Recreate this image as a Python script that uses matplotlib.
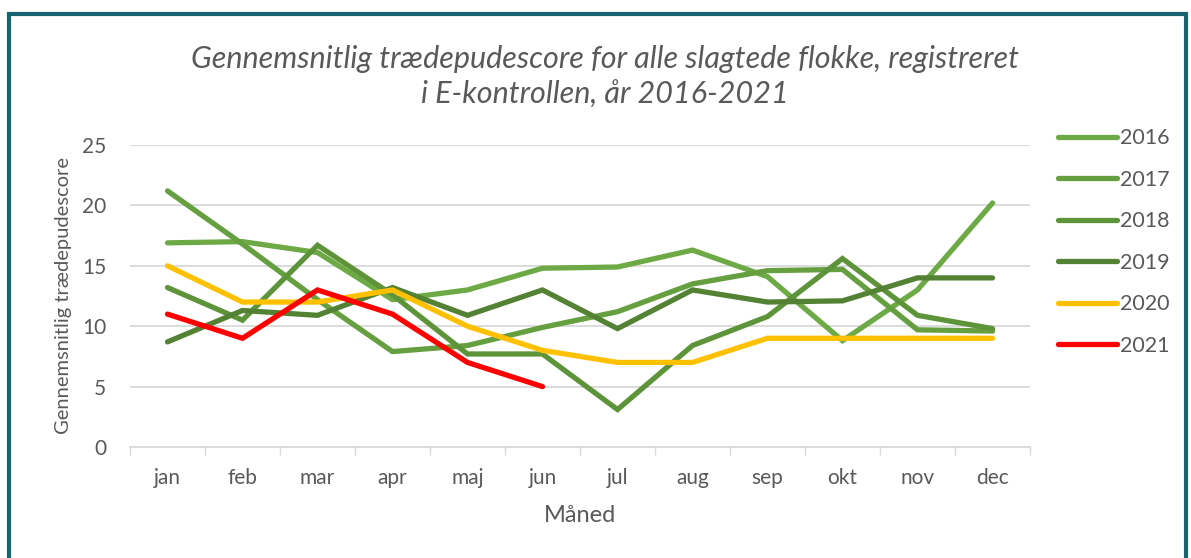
import matplotlib.pyplot as plt
import numpy as np
from matplotlib.patches import Rectangle

months = ['jan', 'feb', 'mar', 'apr', 'maj', 'jun', 'jul', 'aug', 'sep', 'okt', 'nov', 'dec']
years = ['2016', '2017', '2018', '2019', '2020', '2021']

y2016 = [16.9, 17.0, 16.1, 12.2, 13.0, 14.8, 14.9, 16.3, 14.1, 8.8, 13.0, 20.2]
y2017 = [21.2, 16.8, 12.2, 7.9, 8.4, 9.9, 11.2, 13.5, 14.6, 14.7, 9.7, 9.6]
y2018 = [13.2, 10.5, 16.7, 12.6, 7.7, 7.7, 3.1, 8.4, 10.8, 15.6, 10.9, 9.8]
y2019 = [8.7, 11.3, 10.9, 13.2, 10.9, 13.0, 9.8, 13.0, 12.0, 12.1, 14.0, 14.0]
y2020 = [15, 12, 12, 13, 10, 8, 7, 7, 9, 9, 9, 9]
y2021 = [11, 9, 13, 11, 7, 5]

series = [y2016, y2017, y2018, y2019, y2020, y2021]
colors = ['#6DAA45', '#659F3F', '#5E9439', '#548235', '#FFC000', '#FF0000']

plt.rcParams['font.family'] = ['Lato', 'DejaVu Sans']
grey = '#595959'

fig = plt.figure(figsize=(11.91, 5.58), dpi=100)
ax = fig.add_axes([130 / 1191, 1 - 447 / 558, 900 / 1191, 302 / 558])

x = np.arange(len(months))
for yr, vals, c in zip(years, series, colors):
    ax.plot(x[:len(vals)], vals, color=c, lw=3.8, label=yr,
            solid_capstyle='round', solid_joinstyle='miter')

ax.set_xlim(-0.5, 11.5)
ax.set_ylim(0, 25)
ax.set_yticks([0, 5, 10, 15, 20, 25])
ax.set_xticks(x)
ax.set_xticklabels(months)
ax.set_xticks(np.arange(-0.5, 12, 1), minor=True)
ax.tick_params(axis='x', which='major', length=0, pad=15, labelsize=15, labelcolor=grey)
ax.tick_params(axis='x', which='minor', length=6, color='#D9D9D9', width=1)
ax.tick_params(axis='y', length=0, pad=17, labelsize=15, labelcolor=grey)
ax.grid(axis='y', color='#D9D9D9', lw=1.3)
ax.set_axisbelow(True)
for s in ['top', 'right', 'left']:
    ax.spines[s].set_visible(False)
ax.spines['bottom'].set_color('#D9D9D9')
ax.spines['bottom'].set_linewidth(1.3)

ax.set_ylabel('Gennemsnitlig trædepudescore', fontsize=14.5, color=grey, labelpad=7)
ax.set_xlabel('Måned', fontsize=17, color=grey, labelpad=12)

fig.text(605 / 1191, 1 - 77 / 558,
         'Gennemsnitlig trædepudescore for alle slagtede flokke, registreret\ni E-kontrollen, år 2016-2021',
         ha='center', va='center', fontsize=22, style='italic', color=grey, linespacing=1.35)

ax.legend(loc='upper left', bbox_to_anchor=(1.01, 1.12), frameon=False, fontsize=15.5,
          labelcolor=grey, handlelength=2.7, handletextpad=0.15, labelspacing=1.0)

fig.patches.append(Rectangle((9 / 1191, -0.05), 1177 / 1191, 1 - 14 / 558 + 0.05,
                             transform=fig.transFigure, fill=False,
                             edgecolor='#17646E', lw=3))

fig.savefig('out.png', dpi=100)
